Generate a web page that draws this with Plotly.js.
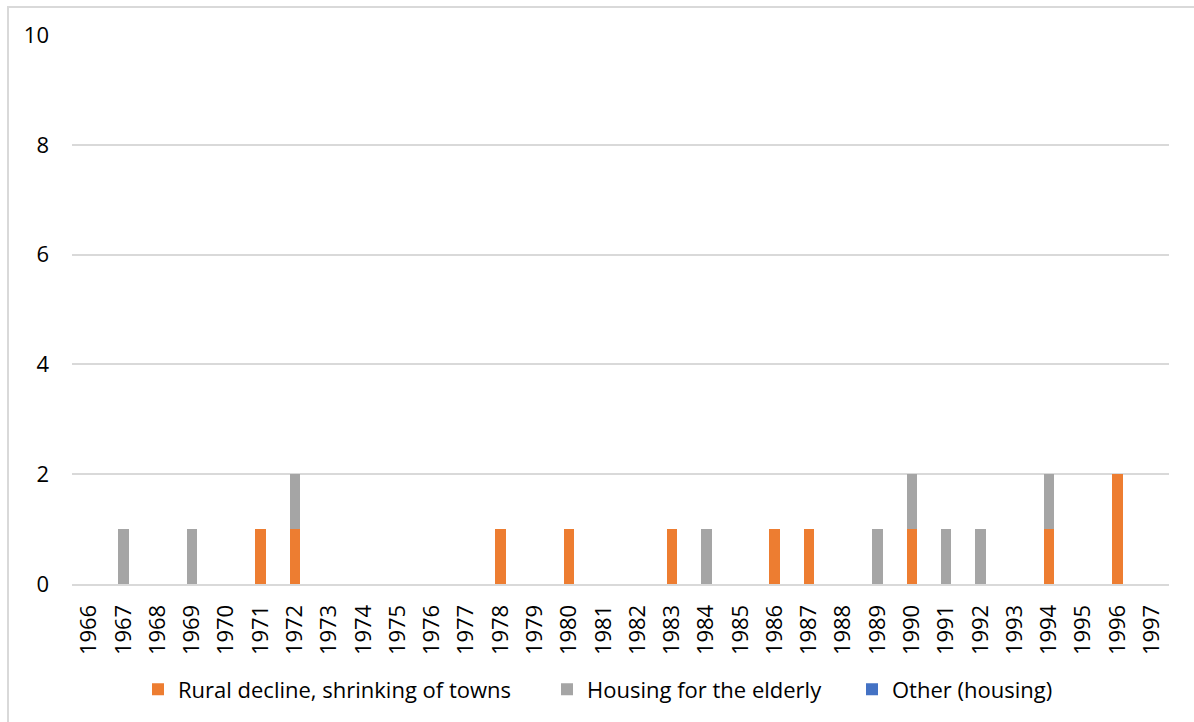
<!DOCTYPE html>
<html>
<head>
<meta charset="utf-8">
<script src="https://cdn.plot.ly/plotly-3.0.1.min.js"></script>
<style>
  html, body { margin: 0; padding: 0; background: #ffffff; }
  #frame {
    position: absolute; left: 0; top: 0; width: 1194px; height: 722px;
  }
  #edge {
    position: absolute; left: 7px; top: 6px; width: 1200px; height: 730px;
    border-left: 2px solid #d9d9d9; border-top: 2px solid #d9d9d9;
    pointer-events: none;
  }
  #chart { position: absolute; left: 0; top: 0; width: 1194px; height: 722px; }
</style>
</head>
<body>
<div id="frame">
  <div id="chart"></div>
  <div id="edge"></div>
</div>
<script>
// Years on the category axis
const years = [
  '1966','1967','1968','1969','1970','1971','1972','1973','1974','1975','1976',
  '1977','1978','1979','1980','1981','1982','1983','1984','1985','1986','1987',
  '1988','1989','1990','1991','1992','1993','1994','1995','1996','1997'
];

// Counts per year for each topic
const ruralDecline = [
  0,0,0,0,0,1,1,0,0,0,0,
  0,1,0,1,0,0,1,0,0,1,1,
  0,0,1,0,0,0,1,0,2,0
];
const elderlyHousing = [
  0,1,0,1,0,0,1,0,0,0,0,
  0,0,0,0,0,0,0,1,0,0,0,
  0,1,1,1,1,0,1,0,0,0
];
const otherHousing = [
  0,0,0,0,0,0,0,0,0,0,0,
  0,0,0,0,0,0,0,0,0,0,0,
  0,0,0,0,0,0,0,0,0,0
];

const seriesNames = [
  'Rural decline, shrinking of towns',
  'Housing for the elderly',
  'Other (housing)'
];
const yTicks = [0, 2, 4, 6, 8, 10];

const FONT = 'Open Sans, Liberation Sans, sans-serif';
const FS = 22;
const W = 1194;

function barTrace(name, values, color, legendId) {
  return {
    type: 'bar',
    name: name,
    x: years,
    y: values,
    legend: legendId,
    marker: { color: color, line: { width: 0 } },
    hoverinfo: 'x+y+name'
  };
}

const data = [
  barTrace(seriesNames[0], ruralDecline, '#ED7D31', 'legend'),
  barTrace(seriesNames[1], elderlyHousing, '#A5A5A5', 'legend2'),
  barTrace(seriesNames[2], otherHousing, '#4472C4', 'legend3')
];

// One legend box per series so each entry sits at its own spot along the bottom
function legendAt(leftPx) {
  return {
    orientation: 'h',
    x: leftPx / W,
    xanchor: 'left',
    xref: 'container',
    yref: 'container',
    y: 0.045,
    yanchor: 'middle',
    font: { family: FONT, size: FS, color: '#000000' },
    itemwidth: 30,
    bgcolor: 'rgba(0,0,0,0)'
  };
}

const layout = {
  width: W,
  height: 722,
  margin: { l: 72, r: 25, t: 35, b: 138, autoexpand: false },
  paper_bgcolor: '#ffffff',
  plot_bgcolor: '#ffffff',
  barmode: 'stack',
  bargap: 0.69,
  font: { family: FONT, size: FS, color: '#000000' },
  xaxis: {
    type: 'category',
    tickangle: -90,
    showgrid: false,
    showline: true,
    linecolor: '#d9d9d9',
    linewidth: 2,
    ticks: '',
    ticklabelstandoff: 10,
    tickfont: { family: FONT, size: FS, color: '#000000' },
    zeroline: false,
    automargin: false
  },
  yaxis: {
    range: [0, 10],
    tickvals: yTicks,
    showgrid: true,
    gridcolor: '#d9d9d9',
    gridwidth: 2,
    zeroline: false,
    showline: false,
    ticks: '',
    ticklabelstandoff: 22,
    tickfont: { family: FONT, size: FS, color: '#000000' },
    automargin: false
  },
  legend: legendAt(138),
  legend2: legendAt(547),
  legend3: legendAt(852),
  showlegend: true
};

Plotly.newPlot('chart', data, layout, { displayModeBar: false, staticPlot: true });
</script>
</body>
</html>
